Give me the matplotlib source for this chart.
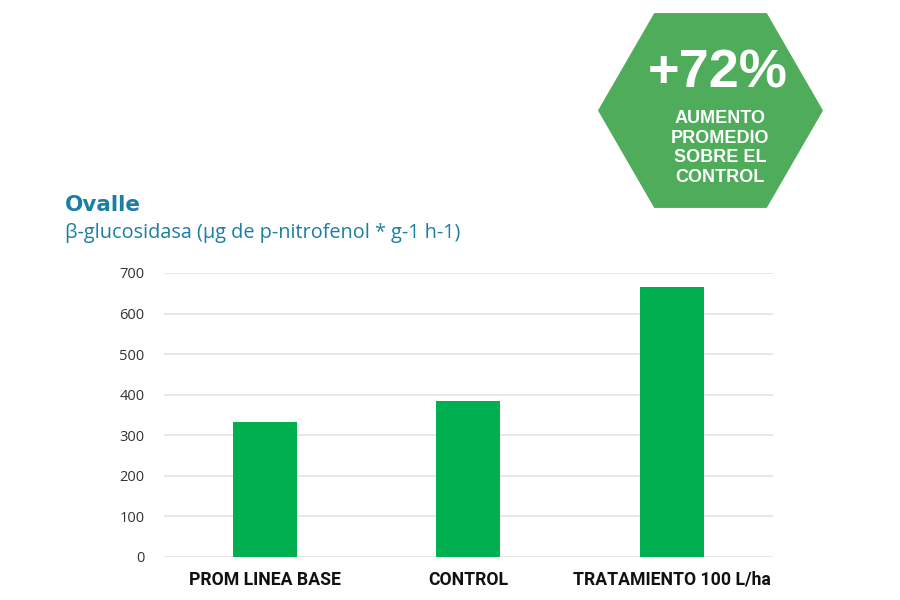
import matplotlib.pyplot as plt
from matplotlib.patches import RegularPolygon
import numpy as np

categories = ['PROM LINEA BASE', 'CONTROL', 'TRATAMIENTO 100 L/ha']
values = [333, 385, 665]
y_ticks = [0, 100, 200, 300, 400, 500, 600, 700]

BAR_GREEN = '#00B050'
HEX_GREEN = '#4EAC5B'
TEAL = '#1B7FA3'

fig = plt.figure(figsize=(9, 6), dpi=100)
ax = fig.add_axes([0.182, 0.0717, 0.677, 0.4733])

x = np.arange(len(categories))
ax.bar(x, values, width=0.315, color=BAR_GREEN, zorder=3)

ax.set_xlim(-0.5, len(categories) - 0.5)
ax.set_ylim(0, 700)
ax.set_yticks(y_ticks)
ax.set_yticklabels([str(t) for t in y_ticks], fontsize=10.5,
                   family='Open Sans', color='#333333')
ax.set_xticks(x)
ax.set_xticklabels(categories, fontsize=12.7, fontweight='bold',
                   family='Roboto', color='#111111')
ax.tick_params(axis='both', length=0)
ax.tick_params(axis='x', pad=10)
ax.tick_params(axis='y', pad=14)
ax.grid(axis='y', color='#E3E3E3', linewidth=1.2, zorder=0)
for s in ax.spines.values():
    s.set_visible(False)

# titles
fig.text(65 / 900, 1 - 205 / 600, 'Ovalle', fontsize=15.5, fontweight='heavy',
         color=TEAL, va='center', ha='left', family='DejaVu Sans')
fig.text(65 / 900, 1 - 233 / 600,
         'β-glucosidasa (µg de p-nitrofenol * g-1 h-1)',
         fontsize=14.3, color=TEAL, va='center', ha='left', family='Open Sans')

# hexagon badge
hexagon = RegularPolygon((7.105, 4.895), numVertices=6, radius=1.125,
                         orientation=np.pi / 6, facecolor=HEX_GREEN,
                         edgecolor='none', transform=fig.dpi_scale_trans)
fig.add_artist(hexagon)
fig.text(718 / 900, 1 - 74 / 600, '+72%', fontsize=39, fontweight='bold',
         color='white', ha='center', va='center', family='Liberation Sans')
fig.text(720 / 900, 1 - 148 / 600, 'AUMENTO\nPROMEDIO\nSOBRE EL\nCONTROL',
         fontsize=13, fontweight='bold', color='white', ha='center',
         va='center', linespacing=1.2, family='Liberation Sans')

fig.savefig('out.png', dpi=100)
